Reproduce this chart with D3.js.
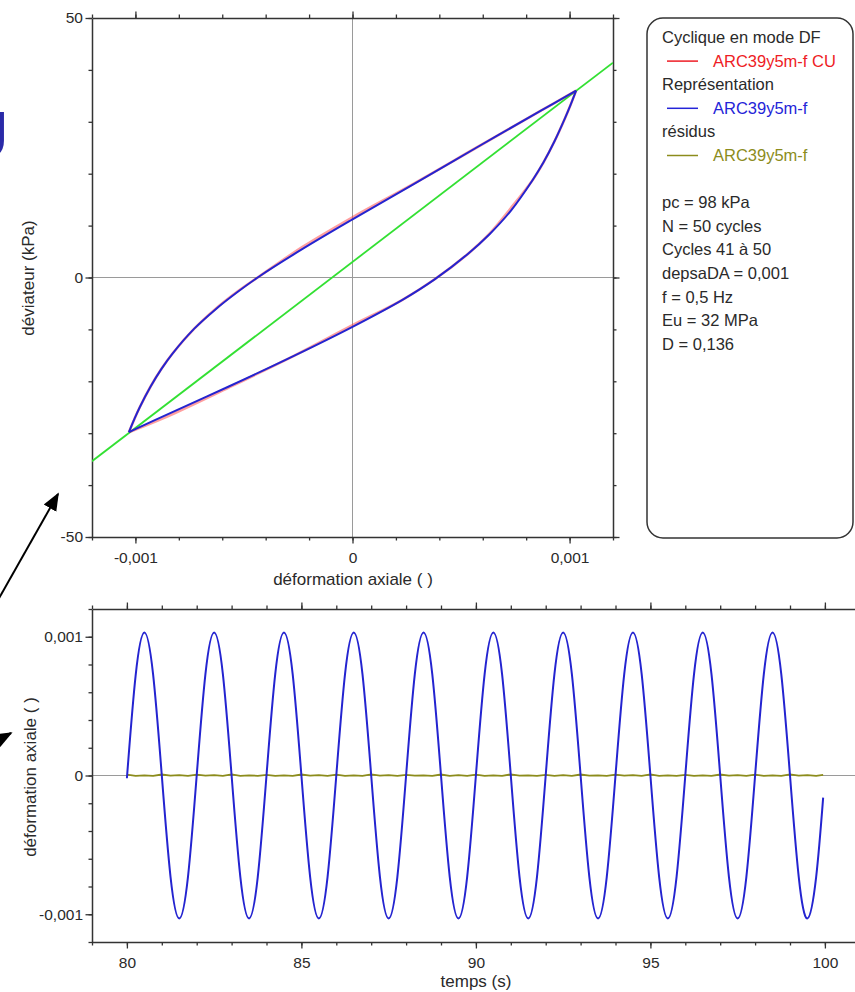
<!DOCTYPE html>
<html>
<head>
<meta charset="utf-8">
<script src="https://cdn.jsdelivr.net/npm/d3@7"></script>
<style>
  html, body { margin: 0; padding: 0; background: #fff; }
  svg { display: block; font-family: "Liberation Sans", Arial, sans-serif; }
</style>
</head>
<body>
<svg id="chart" width="855" height="992"></svg>
<script>
// ---------------- DATA ----------------
// Top chart: hysteresis loop (déformation axiale vs déviateur)
const loopUpX  = [-0.00103, -0.001005, -0.00098, -0.00093, -0.00088, -0.00083, -0.00073, -0.00063, -0.00053, -0.00043, -0.00023, 0, 0.00027, 0.00057, 0.00087, 0.00103];
const loopUpY  = [-29.8, -27.3, -25.0, -21.0, -17.6, -14.7, -9.9, -6.1, -2.8, 0.2, 5.5, 11.2, 17.7, 25.0, 32.2, 36.0];
const loopLoX  = [0.00103, 0.001005, 0.00098, 0.00093, 0.00088, 0.00083, 0.00073, 0.00063, 0.00053, 0.00038, 0.00023, 0, -0.00027, -0.00057, -0.00087, -0.00103];
const loopLoY  = [36.0, 33.3, 30.8, 26.2, 22.2, 18.8, 12.9, 8.3, 4.5, -0.3, -4.3, -9.5, -15.1, -21.0, -26.7, -29.8];
// measured (red) – mostly hidden under the blue fit
const measUpY  = [-29.8, -27.3, -25.0, -21.0, -17.6, -14.7, -9.9, -6.0, -2.7, 0.2, 5.9, 11.6, 17.8, 25.0, 32.2, 36.0];
const measLoY  = [36.0, 33.3, 30.8, 26.2, 22.2, 18.8, 13.4, 8.4, 4.5, -0.3, -4.3, -9.2, -15.1, -21.2, -27.1, -29.8];
// secant line (Eu)
const secantX  = [-0.0012, 0.0012];
const secantY  = [-35.4, 41.4];

// Bottom chart: déformation axiale vs temps
const timeS = [80,80.25,80.5,80.75,81,81.25,81.5,81.75,82,82.25,82.5,82.75,83,83.25,83.5,83.75,
  84,84.25,84.5,84.75,85,85.25,85.5,85.75,86,86.25,86.5,86.75,87,87.25,87.5,87.75,
  88,88.25,88.5,88.75,89,89.25,89.5,89.75,90,90.25,90.5,90.75,91,91.25,91.5,91.75,
  92,92.25,92.5,92.75,93,93.25,93.5,93.75,94,94.25,94.5,94.75,95,95.25,95.5,95.75,
  96,96.25,96.5,96.75,97,97.25,97.5,97.75,98,98.25,98.5,98.75,99,99.25,99.5,99.75,99.95];
const strain = [-0.00002,0.00072,0.00103,0.00073,0.00000,-0.00073,-0.00103,-0.00073,
  0.00000,0.00073,0.00103,0.00073,0.00000,-0.00073,-0.00103,-0.00073,
  0.00000,0.00073,0.00103,0.00073,0.00000,-0.00073,-0.00103,-0.00073,
  0.00000,0.00073,0.00103,0.00073,0.00000,-0.00073,-0.00103,-0.00073,
  0.00000,0.00073,0.00103,0.00073,0.00000,-0.00073,-0.00103,-0.00073,
  0.00000,0.00073,0.00103,0.00073,0.00000,-0.00073,-0.00103,-0.00073,
  0.00000,0.00073,0.00103,0.00073,0.00000,-0.00073,-0.00103,-0.00073,
  0.00000,0.00073,0.00103,0.00073,0.00000,-0.00073,-0.00103,-0.00073,
  0.00000,0.00073,0.00103,0.00073,0.00000,-0.00073,-0.00103,-0.00073,
  0.00000,0.00073,0.00103,0.00073,0.00000,-0.00073,-0.00103,-0.00073,-0.00016];
const residual = [0.000006,-0.000002,0.000001,-0.000002,0.000007,-0.000001,0.000002,-0.000003,
  0.000006,-0.000001,0.000002,-0.000002,0.000008,-0.000002,0.000001,-0.000002,
  0.000005,-0.000002,0.000001,-0.000002,0.000007,-0.000001,0.000002,-0.000003,
  0.000006,-0.000002,0.000001,-0.000002,0.000008,-0.000001,0.000002,-0.000002,
  0.000005,-0.000001,0.000001,-0.000002,0.000007,-0.000002,0.000002,-0.000003,
  0.000006,-0.000002,0.000001,-0.000002,0.000008,-0.000001,0.000001,-0.000002,
  0.000005,-0.000002,0.000002,-0.000002,0.000007,-0.000001,0.000001,-0.000003,
  0.000006,-0.000001,0.000002,-0.000002,0.000008,-0.000002,0.000001,-0.000002,
  0.000005,-0.000002,0.000001,-0.000002,0.000007,-0.000001,0.000002,-0.000003,
  0.000006,-0.000002,0.000001,-0.000002,0.000008,-0.000001,0.000002,-0.000002,0.000004];

// Ticks
const topXMajor = [-0.001, 0, 0.001];
const topXMinor = [-0.0012,-0.0010,-0.0008,-0.0006,-0.0004,-0.0002,0,0.0002,0.0004,0.0006,0.0008,0.0010,0.0012];
const topYMajor = [-50, 0, 50];
const topYMinor = [-50,-40,-30,-20,-10,0,10,20,30,40,50];
const botXMajor = [80, 85, 90, 95, 100];
const botXMinor = [79,80,81,82,83,84,85,86,87,88,89,90,91,92,93,94,95,96,97,98,99,100,101];
const botYMajor = [-0.001, 0, 0.001];
const botYMinor = [-0.0012,-0.0010,-0.0008,-0.0006,-0.0004,-0.0002,0,0.0002,0.0004,0.0006,0.0008,0.0010,0.0012];

// Legend content
const legendEntries = [
  {title: "Cyclique en mode DF", label: "ARC39y5m-f CU", color: "#ee1c25"},
  {title: "Représentation",      label: "ARC39y5m-f",    color: "#2424d8"},
  {title: "résidus",             label: "ARC39y5m-f",    color: "#8c8c1c"}
];
const legendInfo = ["pc = 98 kPa", "N = 50 cycles", "Cycles 41 à 50", "depsaDA = 0,001", "f = 0,5 Hz", "Eu = 32 MPa", "D = 0,136"];

// ---------------- DRAW ----------------
const svg = d3.select("#chart");
const AX = "#333";
const TXT = "#2a2a2a";
const FS_TICK = 15.5;
const FS_TITLE = 17;
const FS_LEG = 16.5;

const xTop = d3.scaleLinear().domain([-0.0012, 0.0012]).range([92, 613]);
const yTop = d3.scaleLinear().domain([-50, 50]).range([537, 18]);
const xBot = d3.scaleLinear().domain([79, 101]).range([92, 92 + 22 * 34.9]);
const yBot = d3.scaleLinear().domain([-0.0012, 0.0012]).range([942, 609]);

const fmtStrain = d => d === 0 ? "0" : d3.format(".3f")(d).replace("−", "-").replace(".", ",");
const fmtInt = d => d3.format("d")(d).replace("−", "-");

// defs clip paths
const defs = svg.append("defs");
defs.append("clipPath").attr("id", "clipTop").append("rect")
  .attr("x", 92).attr("y", 18).attr("width", 613 - 92).attr("height", 537 - 18);
defs.append("clipPath").attr("id", "clipBot").append("rect")
  .attr("x", 92).attr("y", 609).attr("width", 855 - 92).attr("height", 942 - 609);

// grid lines (zero lines)
svg.append("line").attr("x1", xTop(0)).attr("x2", xTop(0)).attr("y1", 18).attr("y2", 537)
  .attr("stroke", "#9a9a9a").attr("stroke-width", 1);
svg.append("line").attr("x1", 92).attr("x2", 613).attr("y1", yTop(0)).attr("y2", yTop(0))
  .attr("stroke", "#9a9a9a").attr("stroke-width", 1);
svg.append("line").attr("x1", 92).attr("x2", 855).attr("y1", yBot(0)).attr("y2", yBot(0))
  .attr("stroke", "#9a9a9a").attr("stroke-width", 1);

// axes helper
function drawAxis(orient, scale, pos, major, minor, fmt, labels, pad) {
  const mk = {left: d3.axisLeft, right: d3.axisRight, top: d3.axisTop, bottom: d3.axisBottom}[orient];
  const tr = (orient === "left" || orient === "right") ? `translate(${pos},0)` : `translate(0,${pos})`;
  const gMin = svg.append("g").attr("transform", tr)
    .call(mk(scale).tickValues(minor).tickSize(3.5).tickFormat(""));
  gMin.select(".domain").remove();
  const gMaj = svg.append("g").attr("transform", tr)
    .call(mk(scale).tickValues(major).tickSize(6.5).tickSizeOuter(0).tickPadding(pad || 3).tickFormat(labels ? fmt : ""));
  [gMin, gMaj].forEach(g => {
    g.selectAll("line").attr("stroke", AX).attr("stroke-width", 1.3);
    g.selectAll("path").attr("stroke", AX).attr("stroke-width", 1.5);
    g.selectAll("text").attr("fill", TXT).style("font-size", FS_TICK + "px")
      .style("font-family", '"Liberation Sans", Arial, sans-serif');
  });
  return gMaj;
}

// Top chart axes
drawAxis("left", yTop, 92, topYMajor, topYMinor, fmtInt, true, 2.5);
drawAxis("right", yTop, 613, topYMajor, topYMinor, fmtInt, false);
drawAxis("top", xTop, 18, topXMajor, topXMinor, fmtStrain, false);
drawAxis("bottom", xTop, 537, topXMajor, topXMinor, fmtStrain, true, 8.5);

// Bottom chart axes
drawAxis("left", yBot, 92, botYMajor, botYMinor, fmtStrain, true, 2.5);
drawAxis("top", xBot, 609, botXMajor, botXMinor, fmtInt, false);
drawAxis("bottom", xBot, 942, botXMajor, botXMinor, fmtInt, true, 8);

// Axis titles
svg.append("text").attr("transform", "translate(34,278) rotate(-90)")
  .attr("text-anchor", "middle").style("font-size", FS_TITLE + "px").attr("fill", TXT)
  .text("déviateur (kPa)");
svg.append("text").attr("x", 353).attr("y", 585)
  .attr("text-anchor", "middle").style("font-size", FS_TITLE + "px").attr("fill", TXT)
  .text("déformation axiale ( )");
svg.append("text").attr("transform", "translate(36,777) rotate(-90)")
  .attr("text-anchor", "middle").style("font-size", FS_TITLE + "px").attr("fill", TXT)
  .text("déformation axiale ( )");
svg.append("text").attr("x", 476).attr("y", 987)
  .attr("text-anchor", "middle").style("font-size", FS_TITLE + "px").attr("fill", TXT)
  .text("temps (s)");

// Top chart series
const gTop = svg.append("g").attr("clip-path", "url(#clipTop)");
const lineTop = d3.line().x(d => xTop(d[0])).y(d => yTop(d[1]));
const lineTopC = d3.line().x(d => xTop(d[0])).y(d => yTop(d[1])).curve(d3.curveCatmullRom.alpha(0.5));

gTop.append("path").datum(d3.zip(secantX, secantY)).attr("d", lineTop)
  .attr("fill", "none").attr("stroke", "#33e033").attr("stroke-width", 1.8);

const measUp = d3.zip(loopUpX, measUpY), measLo = d3.zip(loopLoX, measLoY);
[measUp, measLo].forEach(pts => {
  gTop.append("path").datum(pts).attr("d", lineTopC)
    .attr("fill", "none").attr("stroke", "#ff4040").attr("stroke-opacity", 0.5).attr("stroke-width", 2.6);
});
const fitUp = d3.zip(loopUpX, loopUpY), fitLo = d3.zip(loopLoX, loopLoY);
[fitUp, fitLo].forEach(pts => {
  gTop.append("path").datum(pts).attr("d", lineTopC)
    .attr("fill", "none").attr("stroke", "#2424d0").attr("stroke-width", 2)
    .attr("stroke-linejoin", "round");
});

// Bottom chart series
const gBot = svg.append("g").attr("clip-path", "url(#clipBot)");
const lineBotC = d3.line().x(d => xBot(d[0])).y(d => yBot(d[1])).curve(d3.curveNatural);
const lineBot = d3.line().x(d => xBot(d[0])).y(d => yBot(d[1]));
gBot.append("path").datum(d3.zip(timeS, residual)).attr("d", lineBot)
  .attr("fill", "none").attr("stroke", "#8c8c1c").attr("stroke-width", 1.8);
gBot.append("path").datum(d3.zip(timeS, strain)).attr("d", lineBotC)
  .attr("fill", "none").attr("stroke", "#2424d0").attr("stroke-width", 2);

// Legend box
svg.append("rect").attr("x", 647).attr("y", 18).attr("width", 206).attr("height", 520)
  .attr("rx", 16).attr("ry", 16).attr("fill", "#fff").attr("stroke", AX).attr("stroke-width", 1.5);
const lg = svg.append("g").style("font-size", FS_LEG + "px");
const lineH = 23.6;
let ly = 43;
legendEntries.forEach(e => {
  lg.append("text").attr("x", 662).attr("y", ly).attr("fill", TXT).text(e.title);
  ly += lineH;
  lg.append("line").attr("x1", 667).attr("x2", 698).attr("y1", ly - 5.5).attr("y2", ly - 5.5)
    .attr("stroke", e.color).attr("stroke-width", 1.5);
  lg.append("text").attr("x", 713).attr("y", ly).attr("fill", e.color).text(e.label);
  ly += lineH;
});
ly += lineH;
legendInfo.forEach(t => {
  lg.append("text").attr("x", 662).attr("y", ly).attr("fill", TXT).text(t);
  ly += lineH;
});

// Decorations outside the chart: partial blue letter and arrows
svg.append("text").attr("x", 8).attr("y", 159).attr("text-anchor", "end")
  .style("font-size", "68px").style("font-weight", "bold").attr("fill", "#2a2aa8").text("U");

defs.append("marker").attr("id", "arrow").attr("viewBox", "0 0 10 10")
  .attr("refX", 9).attr("refY", 5).attr("markerWidth", 9).attr("markerHeight", 9)
  .attr("orient", "auto-start-reverse")
  .append("path").attr("d", "M0,1 L10,5 L0,9 Z").attr("fill", "#000");
svg.append("line").attr("x1", -2).attr("y1", 600).attr("x2", 58).attr("y2", 494)
  .attr("stroke", "#000").attr("stroke-width", 2).attr("marker-end", "url(#arrow)");
svg.append("line").attr("x1", -20).attr("y1", 750).attr("x2", 11).attr("y2", 733)
  .attr("stroke", "#000").attr("stroke-width", 2).attr("marker-end", "url(#arrow)");
</script>
</body>
</html>
